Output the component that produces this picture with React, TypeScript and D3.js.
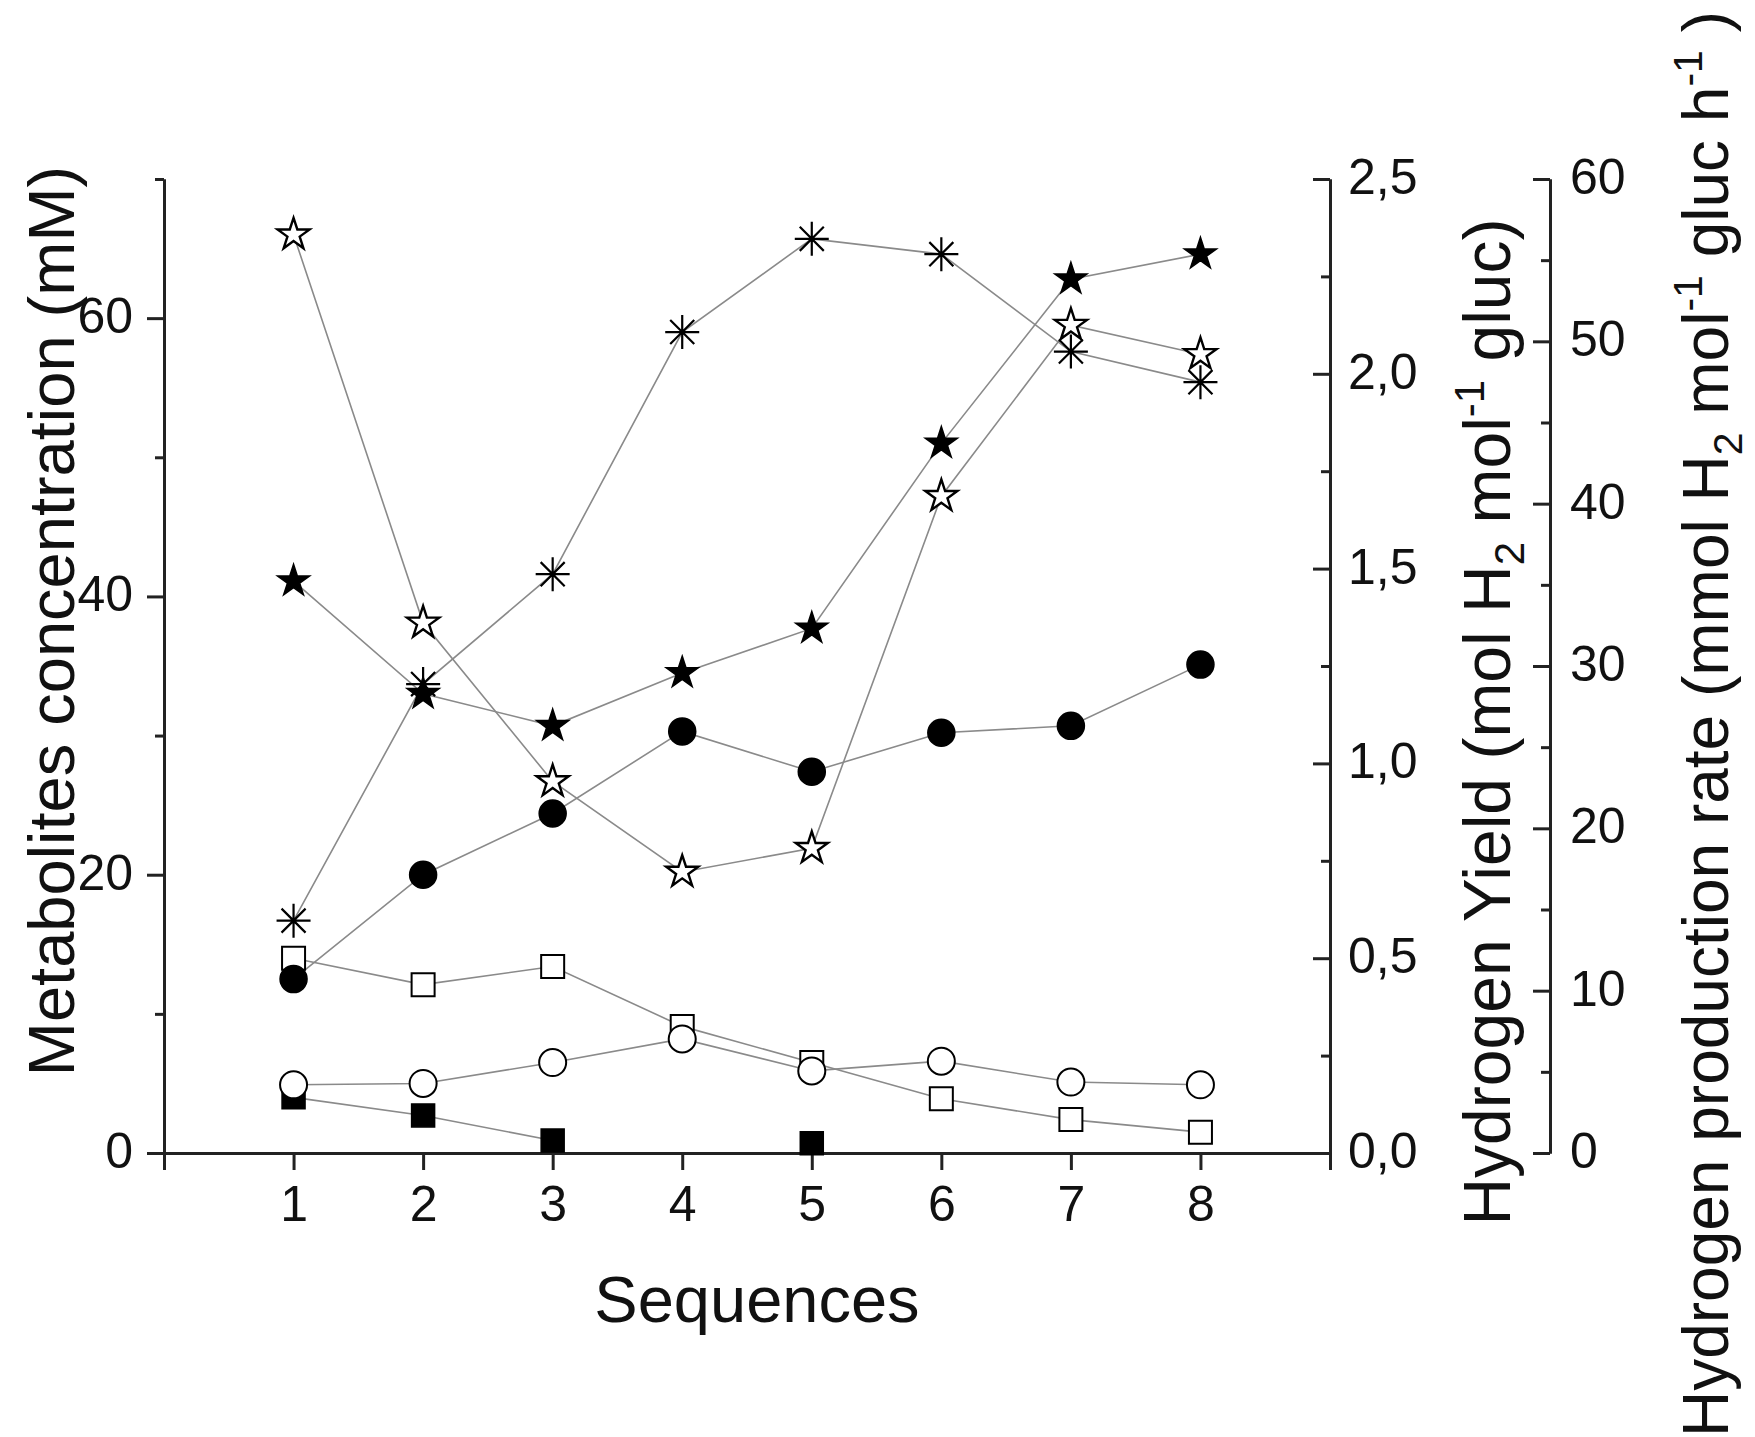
import React, { useEffect, useRef } from 'react';
import * as d3 from 'd3';

// sequences on the x axis
const sequences = [1, 2, 3, 4, 5, 6, 7, 8];

// series values, read in the left axis units (mM)
const filledSquare = [4.0, 2.7, 0.9, null, 0.7, null, null, null];
const openSquare = [14.0, 12.1, 13.4, 9.1, 6.5, 3.9, 2.4, 1.5];
const filledCircle = [12.5, 20.0, 24.4, 30.3, 27.4, 30.2, 30.7, 35.1];
const openCircle = [4.9, 5.0, 6.5, 8.2, 5.9, 6.6, 5.1, 4.9];
const filledStar = [41.1, 33.0, 30.7, 34.5, 37.7, 51.0, 62.8, 64.6];
const openStar = [66.0, 38.1, 26.7, 20.2, 21.9, 47.2, 59.5, 57.4];
const asterisk = [16.7, 33.7, 41.6, 59.0, 65.7, 64.6, 57.6, 55.4];

// tick values
const xTicks = [0, 1, 2, 3, 4, 5, 6, 7, 8, 9];
const leftTicks = [0, 20, 40, 60];
const leftMinor = [10, 30, 50, 70];
const yieldTicks = [0, 0.5, 1.0, 1.5, 2.0, 2.5];
const yieldMinor = [0.25, 0.75, 1.25, 1.75, 2.25];
const rateTicks = [0, 10, 20, 30, 40, 50, 60];
const rateMinor = [5, 15, 25, 35, 45, 55];

const W = 1755;
const H = 1437;
const margin = { left: 164, right: 1330, top: 179, bottom: 1153 };
const rateX = 1550;
const font = '"Liberation Sans", Arial, Helvetica, sans-serif';

const asteriskType = {
    draw(ctx, size) {
        const r = Math.sqrt(size);
        for (let i = 0; i < 4; i++) {
            const a = (i * Math.PI) / 4;
            ctx.moveTo(r * Math.cos(a), r * Math.sin(a));
            ctx.lineTo(-r * Math.cos(a), -r * Math.sin(a));
        }
    }
};

export default function App() {
    const ref = useRef<SVGGElement>(null);

    useEffect(() => {
        const svg = d3.select(ref.current);
        svg.selectAll('*').remove();

        const x = d3.scaleLinear().domain([0, 9]).range([margin.left, margin.right]);
        const y = d3.scaleLinear().domain([0, 70]).range([margin.bottom, margin.top]);
        const yYield = d3.scaleLinear().domain([0, 2.5]).range([margin.bottom, margin.top]);
        const yRate = d3.scaleLinear().domain([0, 60]).range([margin.bottom, margin.top]);

        const styleAxis = (g) => {
            g.attr('font-family', font).attr('font-size', 50);
            g.selectAll('path.domain').attr('stroke', '#222').attr('stroke-width', 3);
            g.selectAll('.tick line').attr('stroke', '#222').attr('stroke-width', 3);
            g.selectAll('.tick text').attr('fill', '#111');
        };

        // minor ticks first
        svg.append('g')
            .attr('transform', `translate(${margin.left},0)`)
            .call(d3.axisLeft(y).tickValues(leftMinor).tickSize(9).tickFormat(() => '').tickSizeOuter(0))
            .call(styleAxis);
        svg.append('g')
            .attr('transform', `translate(${margin.right},0)`)
            .call(d3.axisRight(yYield).tickValues(yieldMinor).tickSize(-9).tickFormat(() => '').tickSizeOuter(0))
            .call(styleAxis);
        svg.append('g')
            .attr('transform', `translate(${rateX},0)`)
            .call(d3.axisRight(yRate).tickValues(rateMinor).tickSize(-9).tickFormat(() => '').tickSizeOuter(0))
            .call(styleAxis);

        // left axis
        const gl = svg.append('g')
            .attr('transform', `translate(${margin.left},0)`)
            .call(d3.axisLeft(y).tickValues(leftTicks).tickSize(17).tickPadding(14).tickSizeOuter(0))
            .call(styleAxis);
        gl.selectAll('.tick text').attr('dy', '0.29em');

        // yield axis
        const gy = svg.append('g')
            .attr('transform', `translate(${margin.right},0)`)
            .call(d3.axisRight(yYield).tickValues(yieldTicks).tickSize(-17).tickPadding(18)
                .tickFormat(d => d3.format('.1f')(d).replace('.', ',')).tickSizeOuter(0))
            .call(styleAxis);
        gy.selectAll('.tick text').attr('dy', '0.29em');

        // rate axis
        const gr = svg.append('g')
            .attr('transform', `translate(${rateX},0)`)
            .call(d3.axisRight(yRate).tickValues(rateTicks).tickSize(-17).tickPadding(20).tickSizeOuter(0))
            .call(styleAxis);
        gr.selectAll('.tick text').attr('dy', '0.29em');

        // x axis
        svg.append('g')
            .attr('transform', `translate(0,${margin.bottom})`)
            .call(d3.axisBottom(x).tickValues(xTicks).tickSize(17).tickPadding(15)
                .tickFormat(d => (d >= 1 && d <= 8 ? String(d) : '')).tickSizeOuter(0))
            .call(styleAxis);

        // series
        const series = [
            { values: filledSquare, type: d3.symbolSquare, size: 529, fill: '#000', sw: 1.5 },
            { values: openSquare, type: d3.symbolSquare, size: 529, fill: '#fff', sw: 2 },
            { values: filledCircle, type: d3.symbolCircle, size: 573, fill: '#000', sw: 1.5 },
            { values: openCircle, type: d3.symbolCircle, size: 573, fill: '#fff', sw: 2 },
            { values: filledStar, type: d3.symbolStar, size: 320, fill: '#000', sw: 1.5 },
            { values: openStar, type: d3.symbolStar, size: 320, fill: '#fff', sw: 2.4 },
            { values: asterisk, type: asteriskType, size: 289, fill: 'none', sw: 2.2 }
        ];

        const line = d3.line<any>()
            .defined(d => d.v != null)
            .x(d => x(d.s))
            .y(d => y(d.v));

        const gLines = svg.append('g');
        const gMarks = svg.append('g');

        series.forEach(s => {
            const pts = sequences.map((seq, i) => ({ s: seq, v: s.values[i] }));
            gLines.append('path')
                .datum(pts)
                .attr('d', line)
                .attr('fill', 'none')
                .attr('stroke', '#8a8a8a')
                .attr('stroke-width', 1.6);
        });

        series.forEach(s => {
            const pts = sequences.map((seq, i) => ({ s: seq, v: s.values[i] })).filter(d => d.v != null);
            gMarks.append('g')
                .selectAll('path')
                .data(pts)
                .enter()
                .append('path')
                .attr('transform', d => `translate(${x(d.s)},${y(d.v)})`)
                .attr('d', d3.symbol().type(s.type).size(s.size))
                .attr('fill', s.fill)
                .attr('stroke', '#000')
                .attr('stroke-width', s.sw)
                .attr('stroke-linejoin', 'miter');
        });
    }, []);

    const title = { fontFamily: font, fontSize: 65, fill: '#111' };

    return (
        <svg width={W} height={H}
            style={{ position: 'absolute', left: 0, top: 0, background: '#fff' }}>
            <g ref={ref} />
            <text x={757} y={1322} textAnchor="middle" style={title}>Sequences</text>
            <text transform="translate(74,621) rotate(-90)" textAnchor="middle" style={title}>
                Metabolites concentration (mM)
            </text>
            <text transform="translate(1510,722) rotate(-90)" textAnchor="middle"
                style={{ ...title, fontSize: 66 }}>
                Hydrogen Yield (mol H<tspan fontSize={42} dy={14}>2</tspan>
                <tspan dy={-14}> mol</tspan>
                <tspan fontSize={42} dy={-26}>-1</tspan>
                <tspan dy={26}> gluc)</tspan>
            </text>
            <text transform="translate(1728,724) rotate(-90)" textAnchor="middle"
                style={{ ...title, fontSize: 64 }}>
                Hydrogen production rate (mmol H<tspan fontSize={41} dy={14}>2</tspan>
                <tspan dy={-14}> mol</tspan>
                <tspan fontSize={41} dy={-26}>-1</tspan>
                <tspan dy={26}> gluc h</tspan>
                <tspan fontSize={41} dy={-26}>-1</tspan>
                <tspan dy={26}> )</tspan>
            </text>
        </svg>
    );
}
